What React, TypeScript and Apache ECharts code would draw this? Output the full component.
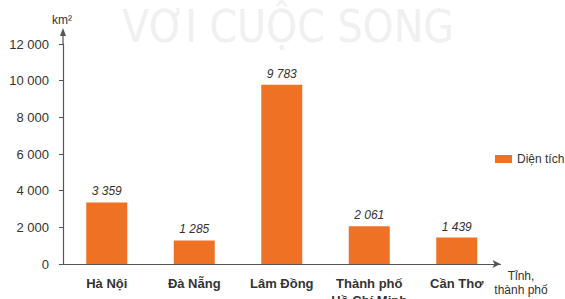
import React, { useEffect, useRef } from "react";
import * as echarts from "echarts";

const categories = ["Hà Nội", "Đà Nẵng", "Lâm Đồng", "Thành phố\nHồ Chí Minh", "Cần Thơ"];
const areaValues = [3359, 1285, 9783, 2061, 1439];
const seriesName = "Diện tích";
const yUnit = "km²";
const xUnit = "Tỉnh,\nthành phố";
const watermark = "VƠI CUỘC SONG";

const fmt = (v: number) => {
  const s = String(Math.round(v));
  return s.replace(/\B(?=(\d{3})+(?!\d))/g, " ");
};

export default function App() {
  const ref = useRef<HTMLDivElement>(null);
  useEffect(() => {
    document.body.style.margin = "0";
    if (!ref.current) return;
    const chart = echarts.init(ref.current, undefined, { renderer: "svg" });
    const left = 63;
    const top = 44;
    const bottomY = 264;
    chart.setOption({
      animation: false,
      backgroundColor: "#ffffff",
      textStyle: { fontFamily: "Liberation Sans, Arial, sans-serif" },
      grid: {
        left,
        right: 64.5,
        top,
        bottom: 299 - bottomY,
        containLabel: false,
        outerBoundsMode: "none",
      },
      legend: {
        left: 490,
        top: 148,
        orient: "vertical",
        itemWidth: 17,
        itemHeight: 8,
        itemGap: 6,
        icon: "rect",
        textStyle: { fontSize: 12, color: "#333" },
        data: [seriesName],
      },
      xAxis: {
        type: "category",
        data: categories,
        axisLine: {
          show: true,
          lineStyle: { color: "#555", width: 1.2 },
          symbol: ["none", "arrow"],
          symbolSize: [6, 8],
        },
        axisTick: { show: false },
        axisLabel: {
          interval: 0,
          margin: 11,
          fontSize: 13,
          fontWeight: "bold",
          color: "#333",
          lineHeight: 17,
        },
      },
      yAxis: {
        type: "value",
        min: 0,
        max: 12000,
        interval: 2000,
        splitLine: { show: false },
        axisLine: { show: true, lineStyle: { color: "#555", width: 1.2 } },
        axisTick: { show: true, inside: false, length: 4, lineStyle: { color: "#555" } },
        axisLabel: {
          fontSize: 13,
          color: "#333",
          margin: 14,
          formatter: (v: number) => fmt(v),
        },
      },
      series: [
        {
          name: seriesName,
          type: "bar",
          data: areaValues,
          barWidth: 41,
          itemStyle: { color: "#EE7124" },
          label: {
            show: true,
            position: "top",
            distance: 5,
            fontSize: 12,
            fontStyle: "italic",
            color: "#333",
            formatter: (p: any) => fmt(p.value),
          },
        },
      ],
      graphic: [
        {
          type: "text",
          x: 122,
          y: 26,
          z: -10,
          style: {
            text: watermark,
            fontSize: 44,
            fontFamily: "Liberation Sans Narrow, DejaVu Sans Condensed, sans-serif",
            fill: "#f0f0f0",
            verticalAlign: "middle",
          },
        },
        {
          type: "line",
          shape: { x1: left, y1: top, x2: left, y2: 34 },
          style: { stroke: "#555", lineWidth: 1.2 },
        },
        {
          type: "polygon",
          shape: { points: [[left, 28], [left - 3, 36], [left + 3, 36]] },
          style: { fill: "#555" },
        },
        {
          type: "text",
          x: 52,
          y: 14,
          style: { text: yUnit, fontSize: 12, fill: "#333" },
        },
        {
          type: "text",
          x: 521,
          y: 269,
          style: { text: xUnit, fontSize: 12, fill: "#333", align: "center", lineHeight: 14 },
        },
      ],
    });
    return () => chart.dispose();
  }, []);
  return <div ref={ref} style={{ width: 565, height: 299 }} />;
}
